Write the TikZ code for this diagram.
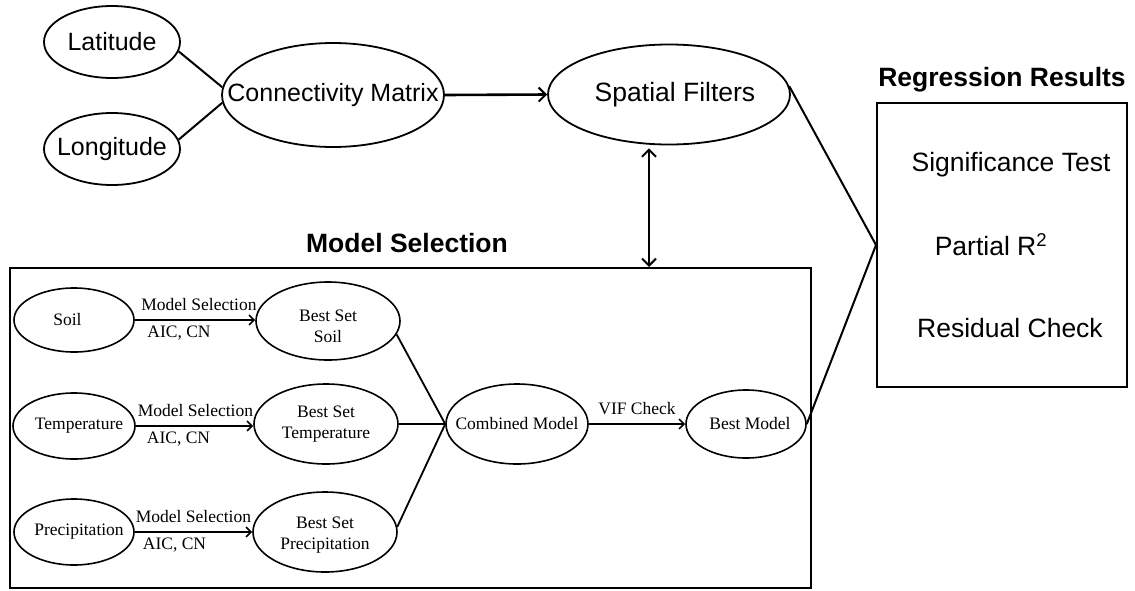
\documentclass[tikz,border=0pt]{standalone}
\usepackage{fontspec}
\setmainfont{Liberation Serif}
\setsansfont{Liberation Sans}
\usetikzlibrary{shapes.geometric,arrows.meta}

% text that does not widen the ellipse around it
\newcommand{\zw}[1]{\makebox[0pt]{#1}}
\newcommand{\twoline}[2]{\begin{tabular}{@{}c@{}}#1\\#2\end{tabular}}

\begin{document}
\begin{tikzpicture}[x=1pt,y=-1pt,
  oval/.style={ellipse,draw,line width=1.8pt,inner sep=0pt},
  smalloval/.style={ellipse,draw,line width=1.6pt,inner sep=0pt,font=\fontsize{17.5}{21}\selectfont},
  frame/.style={draw,line width=2pt,inner sep=0pt},
  sanslbl/.style={font=\sffamily\fontsize{25}{30}\selectfont},
  biglbl/.style={font=\sffamily\fontsize{26.5}{32}\selectfont},
  titlelbl/.style={font=\sffamily\bfseries\fontsize{26.5}{32}\selectfont},
  serlbl/.style={font=\fontsize{17.5}{21}\selectfont,inner sep=2pt},
  setlbl/.style={font=\fontsize{17.5}{21}\selectfont,inner sep=0pt},
  link/.style={line width=2pt},
  flow/.style={line width=2.6pt,-{Straight Barb[length=7pt,width=14pt,line width=2pt]}},
  twoway/.style={line width=2.4pt,{Straight Barb[length=7pt,width=14pt,line width=2pt]}-{Straight Barb[length=7pt,width=14pt,line width=2pt]}},
  step arrow/.style={line width=2pt,-{Straight Barb[length=5pt,width=10pt,line width=1.6pt]}},
  thinlink/.style={line width=1.8pt}
]
\useasboundingbox (0,0) rectangle (1135,590);

% spatial weighting part
\node[oval,sanslbl,minimum width=136pt,minimum height=72pt] (lat) at (112,42) {\zw{Latitude}};
\node[oval,sanslbl,minimum width=136pt,minimum height=72pt] (lon) at (112,149) {\zw{Longitude}};
\node[oval,sanslbl,minimum width=222pt,minimum height=104pt] (cm) at (333,95) {\zw{Connectivity Matrix}};
\node[oval,biglbl,minimum width=242pt,minimum height=100pt] (sf) at (669,94.5) {\zw{\hspace{12pt}Spatial Filters}};

\draw[link] (lat.-8) -- (cm.176);
\draw[link] (lon.8) -- (cm.184);
\draw[flow] (cm.east) -- (sf.west);

% model selection frame
\node[titlelbl] (mstitle) at (407,243) {Model Selection};
\node[frame,minimum width=801pt,minimum height=320pt] (msbox) at (410.5,428) {};

\draw[twoway,shorten <=3pt] ([xshift=-20pt]sf.south) -- ([xshift=-20pt]sf.south |- msbox.north);

% regression results frame
\node[titlelbl] (rrtitle) at (1002,80) {Regression Results};
\node[frame,minimum width=250pt,minimum height=284pt] (rb) at (1002,245) {};
\node[biglbl] (sig) at (1011,165) {Significance Test};
\node[biglbl] (pr2) at (991,245) {Partial R\textsuperscript{2}};
\node[biglbl] (res) at (1010,328) {Residual Check};

% variable groups
\node[smalloval,minimum width=120pt,minimum height=64pt] (soil) at (74,320) {\zw{\hspace{-13pt}Soil}};
\node[smalloval,minimum width=122pt,minimum height=66pt] (temp) at (74,426) {\zw{\hspace{10pt}Temperature}};
\node[smalloval,minimum width=120pt,minimum height=66pt] (prec) at (74,532) {\zw{\hspace{10pt}Precipitation}};

\node[smalloval,minimum width=144pt,minimum height=78pt,
  label={[setlbl,yshift=-7pt]center:\twoline{Best Set}{Soil}}] (bss) at (328,321) {};
\node[smalloval,minimum width=144pt,minimum height=80pt,
  label={[setlbl,yshift=0pt]center:\twoline{Best Set}{Temperature}}] (bst) at (326,424) {};
\node[smalloval,minimum width=144pt,minimum height=80pt,
  label={[setlbl,yshift=-3pt]center:\twoline{Best Set}{Precipitation}}] (bsp) at (325,532) {};

\node[smalloval,minimum width=142pt,minimum height=80pt] (comb) at (517,424) {\zw{Combined Model}};
\node[smalloval,minimum width=120pt,minimum height=68pt] (bm) at (746,424) {\zw{\hspace{8pt}Best Model}};

\draw[step arrow] (soil.east) -- (soil.east -| bss.west)
  node[serlbl,midway,above,xshift=4pt,yshift=6pt] {Model Selection}
  node[serlbl,midway,below,xshift=-16pt,yshift=-3pt] {AIC, CN};
\draw[step arrow] (temp.east) -- (temp.east -| bst.west)
  node[serlbl,midway,above,xshift=1pt,yshift=6pt] {Model Selection}
  node[serlbl,midway,below,xshift=-16pt,yshift=-3pt] {AIC, CN};
\draw[step arrow] (prec.east) -- (prec.east -| bsp.west)
  node[serlbl,midway,above,xshift=0pt,yshift=6pt] {Model Selection}
  node[serlbl,midway,below,xshift=-19pt,yshift=-3pt] {AIC, CN};

\draw[thinlink] (bss.-11) -- (comb.west);
\draw[thinlink] (bst.east) -- (comb.west);
\draw[thinlink] (bsp.4) -- (comb.west);

\draw[step arrow] (comb.east) -- (bm.west)
  node[serlbl,midway,above,yshift=6pt] {VIF Check};

% links into the results
\draw[link] (sf.4) -- (rb.west);
\draw[link] (bm.east) -- (rb.west);
\end{tikzpicture}
\end{document}
